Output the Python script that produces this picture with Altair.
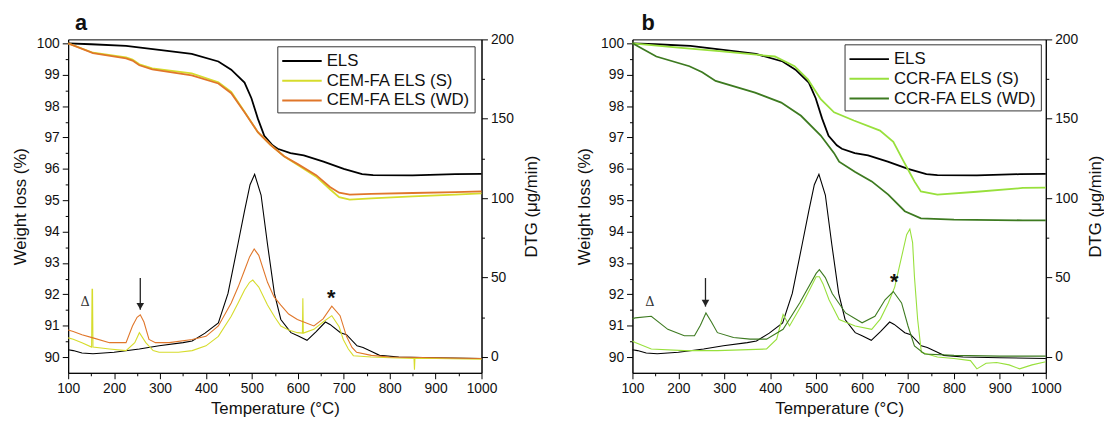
import altair as alt
import pandas as pd

FONT = "Liberation Sans"

# ---------------- series names / colours ----------------
names_a = ["ELS", "CEM-FA ELS (S)", "CEM-FA ELS (WD)"]
colors_a = ["#000000", "#d6dc2c", "#e0762a"]
names_b = ["ELS", "CCR-FA ELS (S)", "CCR-FA ELS (WD)"]
colors_b = ["#000000", "#98e03c", "#3d7a20"]

# ---------------- ELS (same sample in both panels) ----------------
els_tg_t = [100, 150, 226, 298, 369, 427, 455, 484, 499, 513, 527, 545, 556, 584, 613, 656, 700, 740, 764, 850, 943, 1000]
els_tg_v = [100.0, 99.97, 99.92, 99.79, 99.66, 99.42, 99.16, 98.75, 98.25, 97.6, 97.05, 96.75, 96.64, 96.5, 96.43, 96.23, 96.0, 95.83, 95.8, 95.79, 95.83, 95.84]
els_dtg_t = [100, 111, 130, 154, 200, 255, 298, 350, 370, 398, 427, 448, 470, 484, 496, 506, 520, 534, 549, 563,
             585, 600, 620, 640, 660, 670, 693, 706, 729, 742, 764, 778, 820, 900, 1000]
els_dtg_v = [4.5, 4, 2.5, 2, 3, 5, 7, 9, 10, 15, 21.5, 40, 71.6, 92, 108.5, 115, 102, 71, 40, 23.6,
             15.3, 13.3, 10.5, 16, 22, 20.5, 15.3, 14, 7, 6, 2.9, 1, 0, -0.5, -1]

# ---------------- panel a: CEM-FA ----------------
cem_tg_t = [100, 154, 226, 240, 255, 283, 369, 427, 455, 484, 513, 541, 570, 600, 640, 670, 690, 713, 760, 850, 943, 1000]
cem_s_tg_v = [100, 99.7, 99.55, 99.48, 99.33, 99.2, 99.04, 98.76, 98.45, 97.82, 97.17, 96.76, 96.4, 96.12, 95.75, 95.35, 95.1, 95.02, 95.06, 95.12, 95.18, 95.22]
cem_wd_tg_v = [100, 99.69, 99.52, 99.45, 99.3, 99.17, 98.98, 98.72, 98.41, 97.8, 97.17, 96.76, 96.4, 96.15, 95.8, 95.42, 95.24, 95.18, 95.2, 95.23, 95.26, 95.28]

cem_s_dtg_t = [100, 111, 130, 151, 152, 153, 154, 190, 226, 245, 255, 269, 285, 298, 340, 370, 400, 427, 455, 470,
               484, 495, 502, 515, 534, 550, 563, 580, 599, 610, 611, 612, 635, 655, 674, 690, 699, 710, 721, 760,
               800, 853, 854, 855, 900, 1000]
cem_s_dtg_v = [12, 11.2, 9, 6.2, 42.6, 42.6, 6.2, 5, 4, 9, 15.3, 9, 4, 3, 3, 4, 7, 13, 25.6, 34,
               42.2, 47, 48.4, 44, 32.7, 25, 19.5, 17, 15.3, 15, 37, 15, 17.4, 22, 26, 19, 11, 5, 0.8, 0,
               -0.5, -1, -8, -1, -1, -1.5]
cem_wd_dtg_t = [100, 111, 130, 154, 190, 226, 240, 250, 257, 265, 276, 290, 320, 370, 400, 427, 455, 470, 484, 495,
                505, 515, 534, 548, 563, 580, 599, 635, 655, 674, 692, 706, 718, 728, 760, 800, 900, 1000]
cem_wd_dtg_v = [17, 16, 14, 12, 9, 9, 19.5, 25, 26.5, 22, 11, 9, 9, 11, 13, 19.5, 34, 44, 54.6, 63,
                68, 64, 47, 38, 32.7, 27, 23.6, 19.5, 24, 32, 26, 13, 6, 2.9, 1, 0, -0.5, -1]

# ---------------- panel b: CCR-FA ----------------
ccr_s_tg_t = [100, 200, 295, 410, 453, 482, 510, 539, 582, 639, 668, 689, 703, 714, 728, 764, 850, 950, 1000]
ccr_s_tg_v = [100, 99.86, 99.74, 99.58, 99.27, 98.85, 98.22, 97.8, 97.54, 97.22, 96.86, 96.28, 95.9, 95.6, 95.28, 95.18, 95.27, 95.39, 95.4]
ccr_wd_tg_t = [100, 152, 224, 252, 281, 367, 424, 467, 510, 539, 550, 585, 621, 657, 693, 728, 800, 950, 1000]
ccr_wd_tg_v = [100, 99.58, 99.27, 99.08, 98.8, 98.43, 98.11, 97.69, 97.06, 96.5, 96.23, 95.9, 95.6, 95.18, 94.65, 94.42, 94.38, 94.36, 94.36]

ccr_s_dtg_t = [100, 106, 141, 213, 285, 392, 414, 428, 442, 471, 500, 507, 515, 528, 550, 585, 621, 640, 657, 671,
               686, 697, 704, 710, 714, 721, 729, 764, 800, 836, 850, 870, 893, 920, 943, 970, 1000]
ccr_s_dtg_v = [10, 9.1, 5, 4, 4, 5, 11.2, 26.7, 19.5, 34, 50.5, 50.5, 46, 36, 23.6, 19.5, 17.4, 24, 34, 44,
               63, 77, 80.6, 72, 50.5, 23.6, 2.9, 0, -1, -2.3, -7.5, -4, -3.5, -5, -7.5, -5, -3]
ccr_wd_dtg_t = [100, 106, 141, 177, 213, 235, 248, 260, 272, 285, 320, 356, 392, 428, 464, 500, 507, 520, 535, 564,
                600, 628, 650, 668, 686, 700, 714, 736, 800, 900, 1000]
ccr_wd_dtg_v = [24, 24.6, 25.6, 17.4, 13.3, 13.3, 20, 27.7, 22, 15.3, 12.2, 11.2, 11.2, 17.4, 34, 52.6, 55, 50, 40, 27.7,
                21.5, 25.6, 36, 41.2, 34, 19.5, 7, 1.9, 1, 0.5, 0.5]

# ---------------- annotations (data units: temperature, weight %) ----------------
letter_a = (128, 100.44)
delta_a = (137, 91.77)
arrow_a = (257, 92.52, 91.51)
star_a = (673, 92.03)
letter_b = (134, 100.44)
delta_b = (138, 91.77)
arrow_b = (259, 92.52, 91.61)
star_b = (670, 92.56)

# ---------------- ticks ----------------
x_major = list(range(100, 1001, 100))
x_minor = list(range(150, 1000, 100))
yl_major = list(range(90, 101))
yl_minor = [90.5 + i for i in range(10)]
yr_major = [0, 50, 100, 150, 200]
yr_minor = [25, 75, 125, 175]

XS = alt.Scale(domain=[100, 1000], nice=False, zero=False)
YLS = alt.Scale(domain=[89.5, 100.125], nice=False, zero=False)
YRS = alt.Scale(domain=[-10, 200], nice=False, zero=False)


def long_df(series):
    rows = []
    for name, ts, vs in series:
        for t, v in zip(ts, vs):
            rows.append({"t": t, "v": v, "s": name})
    return pd.DataFrame(rows)


def make_panel(letter, letter_pos, names, colors, tg, dtg, delta, arrow, star, legend_off):
    cscale = alt.Scale(domain=names, range=colors)
    leg = alt.Legend(title=None, orient="top-right", offset=legend_off, direction="vertical",
                     symbolType="M-1,0H3", symbolSize=400, symbolStrokeWidth=2,
                     labelFont=FONT, labelFontSize=17, labelColor="#111", labelOffset=24, labelLimit=300,
                     strokeColor="#333", fillColor="white", padding=4, rowPadding=1)
    x_none = alt.X("t:Q", scale=XS, axis=None)
    yl_none = alt.Y("v:Q", scale=YLS, axis=None)

    tg_layer = alt.Chart(tg).mark_line(strokeWidth=1.8).encode(
        x=alt.X("t:Q", scale=XS, axis=alt.Axis(values=x_major, title="Temperature (°C)", orient="bottom", format="d",
                                                 tickSize=6, labelPadding=3, titlePadding=5, labelFlush=False)),
        y=alt.Y("v:Q", scale=YLS, axis=alt.Axis(values=yl_major, title="Weight loss (%)", orient="left",
                                                 tickSize=6, labelPadding=3, titlePadding=7)),
        color=alt.Color("s:N", scale=cscale, legend=leg),
    )
    dtg_layer = alt.Chart(dtg).mark_line(strokeWidth=1.1).encode(
        x=x_none,
        y=alt.Y("v:Q", scale=YRS, axis=alt.Axis(values=yr_major, title="DTG (μg/min)", orient="right",
                                                 tickSize=6, labelPadding=3, titlePadding=10,
                                                 titleAngle=270, titleBaseline="top")),
        color=alt.Color("s:N", scale=cscale, legend=leg),
    )
    minor_l = alt.Chart(tg).mark_line(opacity=0).encode(
        x=alt.X("t:Q", scale=XS, axis=alt.Axis(values=x_minor, labels=False, tickSize=3, domain=False,
                                                 title=None, orient="bottom")),
        y=alt.Y("v:Q", scale=YLS, axis=alt.Axis(values=yl_minor, labels=False, tickSize=3, domain=False,
                                                 title=None, orient="left")),
    )
    minor_r = alt.Chart(dtg).mark_line(opacity=0).encode(
        x=x_none,
        y=alt.Y("v:Q", scale=YRS, axis=alt.Axis(values=yr_minor, labels=False, tickSize=3, domain=False,
                                                 title=None, orient="right")),
    )
    letter_layer = alt.Chart(pd.DataFrame({"t": [letter_pos[0]], "v": [letter_pos[1]], "txt": [letter]})).mark_text(
        font=FONT, fontSize=22, fontWeight="bold", color="#111", baseline="alphabetic").encode(
        x=x_none, y=yl_none, text="txt:N")
    delta_layer = alt.Chart(pd.DataFrame({"t": [delta[0]], "v": [delta[1]], "txt": ["Δ"]})).mark_text(
        font="DejaVu Serif", fontSize=13, color="#333").encode(x=x_none, y=yl_none, text="txt:N")
    shaft = alt.Chart(pd.DataFrame({"t": [arrow[0]], "v": [arrow[1]], "v2": [arrow[2]]})).mark_rule(
        color="#222", strokeWidth=1.3).encode(x=x_none, y=yl_none, y2="v2:Q")
    head = alt.Chart(pd.DataFrame({"t": [arrow[0]], "v": [arrow[2]]})).mark_point(
        shape="triangle-down", filled=True, size=60, color="#222", opacity=1, yOffset=-3.5).encode(x=x_none, y=yl_none)
    star_layer = alt.Chart(pd.DataFrame({"t": [star[0]], "v": [star[1]], "txt": ["*"]})).mark_text(
        font=FONT, fontSize=22, fontWeight="bold", color="#111", dy=5).encode(x=x_none, y=yl_none, text="txt:N")

    return alt.layer(tg_layer, dtg_layer, minor_l, minor_r, letter_layer, delta_layer, shaft, head,
                     star_layer).resolve_scale(
        x="independent", y="independent"
    ).properties(width=419, height=338)


tg_a = long_df([("ELS", els_tg_t, els_tg_v), (names_a[1], cem_tg_t, cem_s_tg_v), (names_a[2], cem_tg_t, cem_wd_tg_v)])
dtg_a = long_df([("ELS", els_dtg_t, els_dtg_v), (names_a[1], cem_s_dtg_t, cem_s_dtg_v), (names_a[2], cem_wd_dtg_t, cem_wd_dtg_v)])
tg_b = long_df([("ELS", els_tg_t, els_tg_v), (names_b[1], ccr_s_tg_t, ccr_s_tg_v), (names_b[2], ccr_wd_tg_t, ccr_wd_tg_v)])
dtg_b = long_df([("ELS", els_dtg_t, els_dtg_v), (names_b[1], ccr_s_dtg_t, ccr_s_dtg_v), (names_b[2], ccr_wd_dtg_t, ccr_wd_dtg_v)])

pa = make_panel("a", letter_a, names_a, colors_a, tg_a, dtg_a, delta_a, arrow_a, star_a, 7)
pb = make_panel("b", letter_b, names_b, colors_b, tg_b, dtg_b, delta_b, arrow_b, star_b, 5)

chart = alt.hconcat(pa, pb, spacing=36).resolve_scale(
    color="independent"
).properties(
    padding={"left": 3, "top": 0, "right": 0, "bottom": 0}
).configure_view(
    stroke="black", strokeWidth=1
).configure_axis(
    domainColor="black", tickColor="black", labelColor="#111", labelFont=FONT, labelFontSize=14,
    titleFont=FONT, titleFontSize=17, titleFontWeight="normal", titleColor="#111", grid=False,
    domainWidth=1, tickWidth=1,
)

chart.save("out.html", embed_options={"renderer": "svg", "actions": False})
